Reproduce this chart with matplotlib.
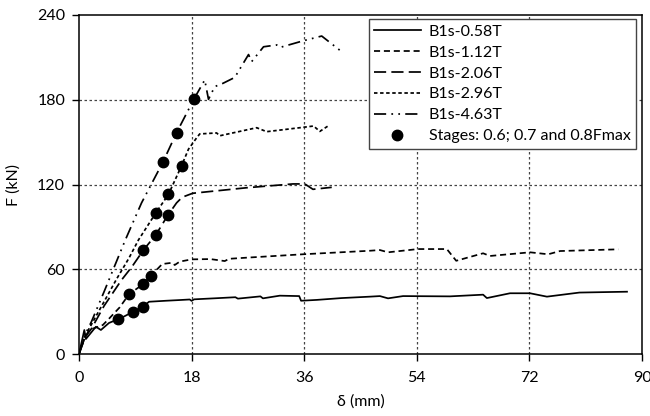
import matplotlib
matplotlib.use("Agg")
import matplotlib.pyplot as plt

plt.rcParams['font.family'] = ['Lato', 'DejaVu Sans']

# --- data ---
s058_x = [0, 0.85, 1.1, 2.7, 3.5, 4.8, 5.9, 6.3, 8.7, 10.2, 11.2, 13.9, 16.1, 17.7, 18.0, 18.4, 22, 25.0, 25.4, 29.0, 29.4, 32.1, 35.2, 35.5, 38.0, 42.0, 46.5, 48.1, 49.4, 51.8, 59.3, 64.6, 65.2, 68.9, 72.1, 74.8, 80.0, 87.6]
s058_y = [0, 17, 10.6, 19.3, 17, 22, 24, 24.5, 30, 33.5, 37, 37.7, 38.2, 38.6, 37.6, 38.7, 39.5, 40.2, 39.2, 40.8, 39.4, 41.3, 41.0, 37.7, 38.3, 39.6, 40.6, 41.0, 39.4, 41.0, 40.8, 42.0, 39.6, 43.0, 43.0, 40.6, 43.5, 44.1]

s112_x = [0, 0.8, 1.6, 3.8, 4.8, 6.5, 8.0, 10.2, 11.5, 13.3, 14.9, 15.3, 16.1, 18.0, 21.0, 23.3, 24.0, 26.8, 35.8, 46.5, 48.1, 49.4, 54.2, 58.8, 60.3, 64.6, 65.7, 72.1, 75.0, 76.9, 86.2]
s112_y = [0, 10, 17, 20.5, 25, 33, 42.3, 49.3, 55.4, 63.7, 64.6, 63.0, 65.4, 67.0, 67.2, 65.8, 67.4, 68.2, 70.6, 73.1, 73.6, 72.0, 74.3, 74.3, 66.0, 71.3, 69.4, 72.0, 70.6, 72.9, 74.1]

s206_x = [0, 1.0, 2.0, 4.0, 6.8, 8.5, 10.3, 12.3, 14.2, 15.6, 16.5, 17.7, 18.2, 26.8, 34.2, 36.1, 37.4, 40.4]
s206_y = [0, 12, 18, 34, 52.4, 62, 73.6, 84.5, 98.2, 107, 111, 113, 113.8, 117.7, 120.4, 120.4, 116.6, 118]

s296_x = [0, 1.0, 2.0, 4.0, 6.0, 8.0, 9.5, 12.3, 14.3, 16.4, 17.5, 18.8, 19.3, 22.0, 22.5, 28.4, 30.0, 35.3, 37.5, 38.5, 39.8]
s296_y = [0, 13, 21, 37, 53, 68, 80.7, 100, 113, 133.3, 145, 153, 155.8, 156.5, 154.5, 160.2, 157.4, 160.2, 161.4, 157.6, 161.4]

s463_x = [0, 1.0, 2.0, 4.0, 7.4, 10.0, 13.4, 15.6, 18.4, 20.1, 20.7, 21.7, 23.0, 24.9, 27.1, 27.6, 29.5, 31.6, 32.1, 35.9, 38.8, 42.0]
s463_y = [0, 14, 23, 44, 80.7, 107, 135.7, 156.7, 180.7, 194, 180.3, 189.3, 191.6, 195.8, 212, 207, 217.5, 218.8, 217, 221.8, 225.1, 214]

stage_x = [6.3, 8.7, 10.2, 8.0, 10.2, 11.5, 10.3, 12.3, 14.2, 12.3, 14.3, 16.4, 13.4, 15.6, 18.4]
stage_y = [24.5, 30, 33.5, 42.3, 49.3, 55.4, 73.6, 84.5, 98.2, 100, 113, 133.3, 135.7, 156.7, 180.7]

labels = ["B1s-0.58T", "B1s-1.12T", "B1s-2.06T", "B1s-2.96T", "B1s-4.63T",
          "Stages: 0.6; 0.7 and 0.8Fmax"]
x_ticks = [0, 18, 36, 54, 72, 90]
y_ticks = [0, 60, 120, 180, 240]

fig = plt.figure(figsize=(6.5, 4.16), dpi=100)
ax = fig.add_axes([79/650, 62/416, (642-79)/650, (354-15)/416])

lw = 1.25
ax.plot(s058_x, s058_y, color='black', lw=lw, ls='-', label=labels[0])
ax.plot(s112_x, s112_y, color='black', lw=lw, ls=(0, (3.5, 2.2)), label=labels[1])
ax.plot(s206_x, s206_y, color='black', lw=lw, ls=(0, (7, 3)), label=labels[2])
ax.plot(s296_x, s296_y, color='black', lw=lw, ls=(0, (2, 1.5)), label=labels[3])
ax.plot(s463_x, s463_y, color='black', lw=lw, ls=(0, (7, 3, 1, 3, 1, 3)), label=labels[4])
ax.plot(stage_x, stage_y, ls='none', marker='o', ms=7.5, color='black', label=labels[5], zorder=5)

ax.set_xlim(0, 90)
ax.set_ylim(0, 240)
ax.set_xticks(x_ticks)
ax.set_yticks(y_ticks)
ax.tick_params(direction='out', length=5, width=1, labelsize=11.5, pad=5)
ax.tick_params(axis='x', pad=7)

for gx in x_ticks[1:-1]:
    ax.axvline(gx, color='#444444', lw=0.9, ls=(0, (2, 2)), zorder=0)
for gy in y_ticks[1:-1]:
    ax.axhline(gy, color='#444444', lw=0.9, ls=(0, (2, 2)), zorder=0)

for s in ax.spines.values():
    s.set_linewidth(1.1)
    s.set_color('black')

ax.set_xlabel("δ (mm)", fontsize=11.5, labelpad=7)
ax.set_ylabel("F (kN)", fontsize=11.5, labelpad=12)

leg = ax.legend(loc='upper right', bbox_to_anchor=(636/650, (416-19)/416),
                bbox_transform=fig.transFigure, fontsize=11.5, handlelength=2.9,
                labelspacing=0.42, borderaxespad=0, fancybox=False, framealpha=1,
                edgecolor='#444444', borderpad=0.35, handletextpad=0.5)
leg.get_frame().set_linewidth(1.0)

fig.savefig("out.png", dpi=100)
